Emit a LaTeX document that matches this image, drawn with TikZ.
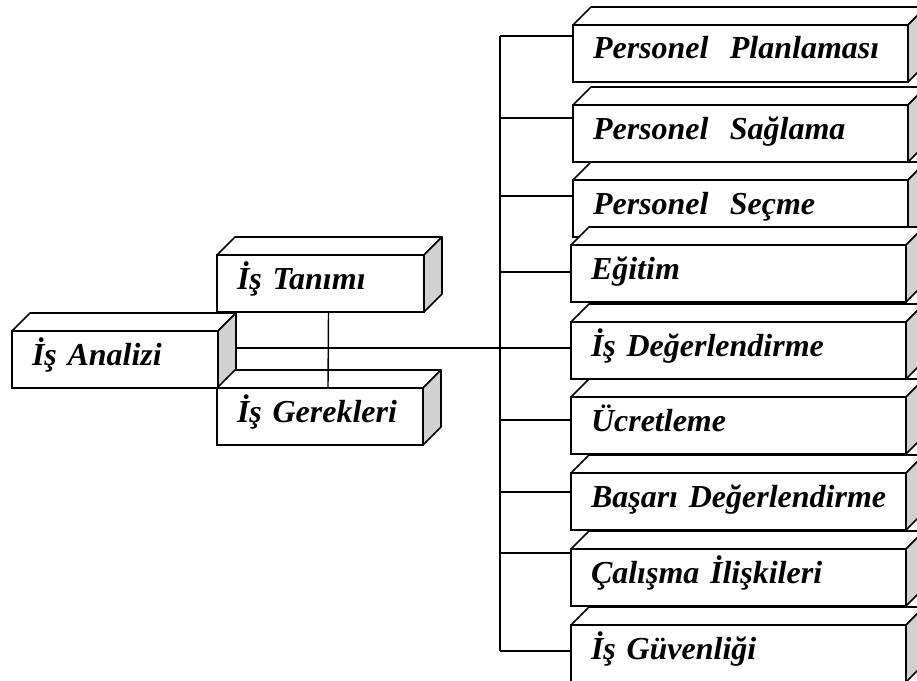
\documentclass[tikz,border=0pt]{standalone}
\usepackage{fontspec}
\setmainfont{Liberation Serif}
\usetikzlibrary{calc}
\definecolor{yangri}{gray}{0.82}

\begin{document}
\begin{tikzpicture}[x=1bp, y=-1bp,
  kutu/.style={draw, fill=white, line width=1.6bp, outer sep=0pt, anchor=north west,
    inner xsep=20bp, inner ysep=0pt, text height=34bp, text depth=23bp,
    align=left, text width=#1, font=\bfseries\itshape\fontsize{32bp}{36bp}\selectfont},
  kutu/.default=295bp,
  yuz/.style={draw, line width=1.6bp, line join=round, fill=#1},
  hat/.style={line width=1.4bp}]
\useasboundingbox (0,0) rectangle (917,681);
\foreach \i/\x/\y/\s/\txt in {%
    1/573/25/36/Personel\ \ Planlaması,
    2/573/105/118/Personel\ \ Sağlama,
    3/573/180/196/Personel\ \ Seçme,
    4/571/245/272/Eğitim,
    5/571/322/348/İş Değerlendirme,
    6/571/397/420/Ücretleme,
    7/571/473/492/Başarı Değerlendirme,
    8/571/549/553/Çalışma İlişkileri,
    9/571/625/651/İş Güvenliği
} {
    \node[kutu] (k\i) at (\x,\y) {\mbox{\txt}};
    \filldraw[yuz=white] (k\i.north west) -- ++(18,-18) -- ([shift={(18,-18)}]k\i.north east) -- (k\i.north east) -- cycle;
    \filldraw[yuz=yangri] (k\i.north east) -- ++(18,-18) -- ([shift={(18,-18)}]k\i.south east) -- (k\i.south east) -- cycle;
    \coordinate (b\i) at (500,\s);
    \draw[hat] (b\i) -- (b\i -| k\i.west);
}
\node[kutu=167bp] (tanim) at (217,255) {İş Tanımı};
\node[kutu=166bp] (analiz) at (12,331) {İş Analizi};
\node[kutu=166bp] (gerek) at (217,388) {İş Gerekleri};
\foreach \k in {tanim, analiz, gerek} {
    \filldraw[yuz=white] (\k.north west) -- ++(18,-18) -- ([shift={(18,-18)}]\k.north east) -- (\k.north east) -- cycle;
    \filldraw[yuz=yangri] (\k.north east) -- ++(18,-18) -- ([shift={(18,-18)}]\k.south east) -- (\k.south east) -- cycle;
}
\draw[hat] (b1) -- (b9);
\coordinate (ay) at ([xshift=18bp]analiz.east);
\draw[hat] (ay |- b5) -- (b5);
\draw[hat] ([xshift=8bp]tanim.south) -- ([xshift=8bp]gerek.north);
\end{tikzpicture}
\end{document}
